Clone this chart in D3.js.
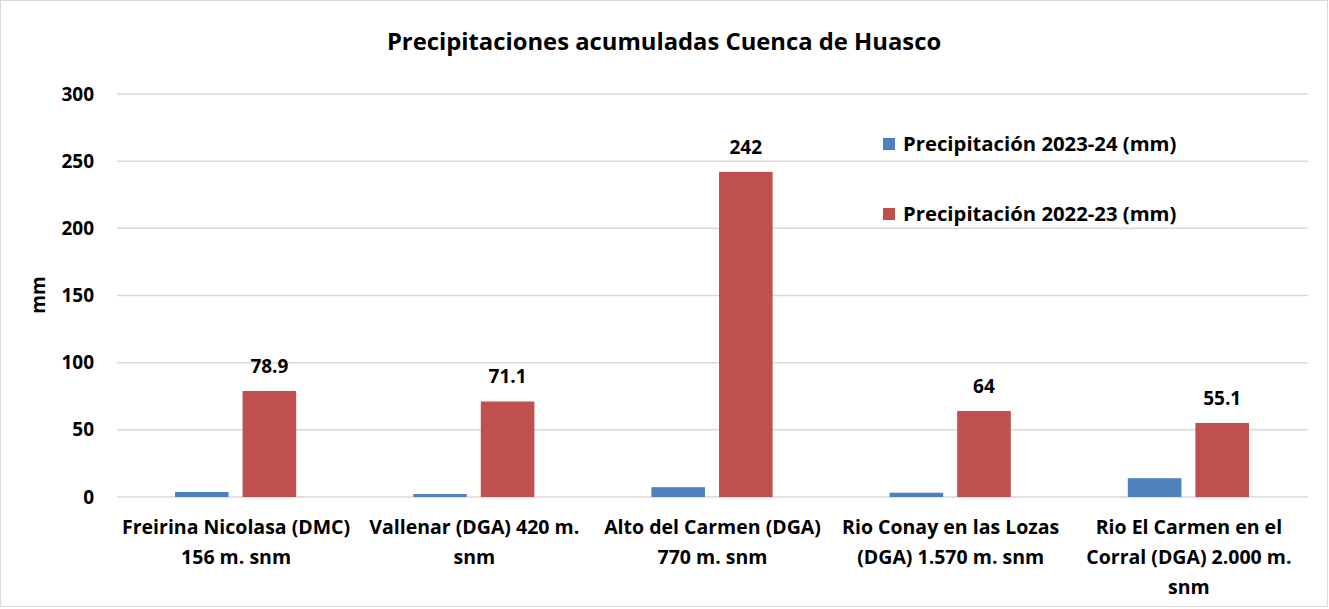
<!DOCTYPE html>
<meta charset="utf-8">
<style>
    body { margin: 0; background: #fff; }
    text { font-family: "Open Sans", "Noto Sans", sans-serif; font-weight: bold; fill: #000; }
</style>
<svg width="1329" height="609"></svg>
<script src="https://d3js.org/d3.v7.min.js"></script>
<script>
    var categories = [
        ["Freirina Nicolasa (DMC)", "156 m. snm"],
        ["Vallenar (DGA) 420 m.", "snm"],
        ["Alto del Carmen (DGA)", "770 m. snm"],
        ["Rio Conay en las Lozas", "(DGA) 1.570 m. snm"],
        ["Rio El Carmen en el", "Corral (DGA) 2.000 m.", "snm"]
    ];
    var seriesNames = ["Precipitación 2023-24 (mm)", "Precipitación 2022-23 (mm)"];
    var values2324 = [3.7, 2.2, 7.3, 3.2, 14];
    var values2223 = [78.9, 71.1, 242, 64, 55.1];
    var yTicks = [0, 50, 100, 150, 200, 250, 300];
    var COLORS = ["#4f81bd", "#c0504d"];

    var svg = d3.select("svg"),
        pLeft = 117, pRight = 1308, pTop = 94, pBottom = 497;

    svg.append("rect")
        .attr("x", 0.5).attr("y", 0.5)
        .attr("width", 1327).attr("height", 606)
        .attr("fill", "#fff")
        .attr("stroke", "#d9d9d9");

    var x0 = d3.scaleBand()
        .domain(d3.range(categories.length))
        .range([pLeft, pRight]);
    var x1 = d3.scaleBand()
        .domain([0, 1])
        .range([58, x0.bandwidth() - 59])
        .paddingInner(0.207);
    var y = d3.scaleLinear().domain([0, 300]).range([pBottom, pTop]);

    // grid
    svg.append("g").selectAll("line")
        .data(yTicks)
        .enter().append("line")
        .attr("x1", pLeft).attr("x2", pRight)
        .attr("y1", function (d) { return y(d); })
        .attr("y2", function (d) { return y(d); })
        .attr("stroke", "#d9d9d9")
        .attr("stroke-width", 1.5);

    svg.append("g").selectAll("text")
        .data(yTicks)
        .enter().append("text")
        .attr("x", 94)
        .attr("y", function (d) { return y(d); })
        .attr("dy", "0.35em")
        .attr("text-anchor", "end")
        .attr("font-size", 19)
        .text(function (d) { return d; });

    svg.append("text")
        .attr("transform", "translate(45," + 295 + ") rotate(-90)")
        .attr("text-anchor", "middle")
        .attr("font-size", 19)
        .text("mm");

    svg.append("text")
        .attr("x", 664).attr("y", 50)
        .attr("text-anchor", "middle")
        .attr("font-size", 23.8)
        .text("Precipitaciones acumuladas Cuenca de Huasco");

    var rows = categories.map(function (c, i) {
        return {i: i, v: [values2324[i], values2223[i]]};
    });

    var groups = svg.append("g").selectAll("g")
        .data(rows)
        .enter().append("g")
        .attr("transform", function (d) { return "translate(" + x0(d.i) + ",0)"; });

    groups.selectAll("rect")
        .data(function (d) { return d.v; })
        .enter().append("rect")
        .attr("x", function (d, j) { return x1(j); })
        .attr("width", x1.bandwidth())
        .attr("y", function (d) { return y(d); })
        .attr("height", function (d) { return pBottom - y(d); })
        .attr("fill", function (d, j) { return COLORS[j]; });

    groups.append("text")
        .attr("x", x1(1) + x1.bandwidth() / 2)
        .attr("y", function (d) { return y(d.v[1]) - 18; })
        .attr("text-anchor", "middle")
        .attr("font-size", 19)
        .text(function (d) { return d.v[1]; });

    // category labels
    var labels = svg.append("g").selectAll("text")
        .data(categories)
        .enter().append("text")
        .attr("text-anchor", "middle")
        .attr("font-size", 19.5)
        .attr("x", function (d, i) { return x0(i) + x0.bandwidth() / 2; })
        .attr("y", 534);
    labels.selectAll("tspan")
        .data(function (d) { return d; })
        .enter().append("tspan")
        .attr("x", function () { return this.parentNode.getAttribute("x"); })
        .attr("dy", function (d, j) { return j === 0 ? 0 : 30; })
        .text(function (d) { return d; });

    // legend
    var legend = svg.append("g").selectAll("g")
        .data(seriesNames)
        .enter().append("g")
        .attr("transform", function (d, i) { return "translate(883," + (144 + i * 70) + ")"; });
    legend.append("rect")
        .attr("x", 0).attr("y", -6)
        .attr("width", 12).attr("height", 12)
        .attr("fill", function (d, i) { return COLORS[i]; });
    legend.append("text")
        .attr("x", 20)
        .attr("dy", "0.35em")
        .attr("font-size", 20.3)
        .text(function (d) { return d; });
</script>
